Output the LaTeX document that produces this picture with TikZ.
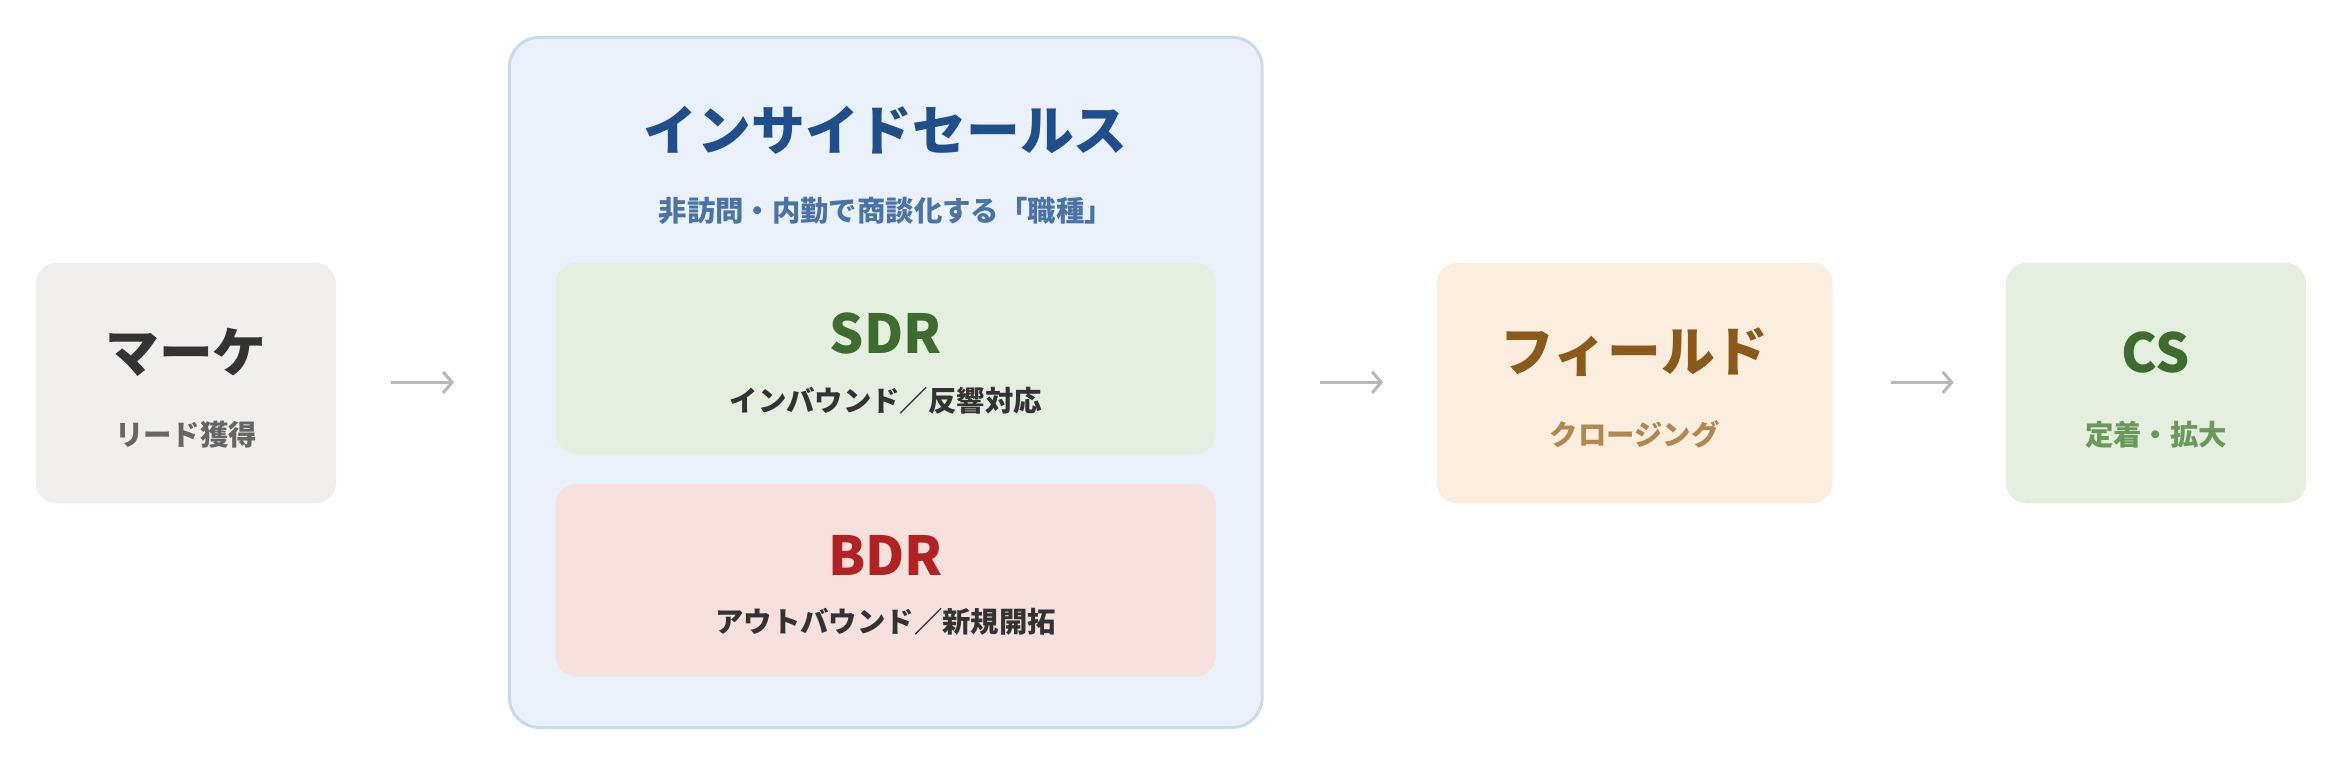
\documentclass[tikz,border=0pt]{standalone}
\usepackage{fontspec}
\setmainfont{Noto Sans CJK JP}
\begin{document}
\begin{tikzpicture}[x=1pt,y=-1pt,
 box/.style={rounded corners=14pt,draw=none},
 ttl/.style={font=\fontsize{36}{40}\selectfont\bfseries},
 sub/.style={font=\fontsize{19}{22}\selectfont\bfseries},
 arr/.style={draw=black!28,line width=2pt,-{Straight Barb[length=6pt,width=14pt]}}]
\usetikzlibrary{arrows.meta}
\useasboundingbox[fill=white] (0,0) rectangle (1568,513);
\definecolor{gbox}{HTML}{F0EFEC}\definecolor{isbox}{HTML}{EAF1FA}\definecolor{isbd}{HTML}{C8DCF0}
\definecolor{sdrbox}{HTML}{E4EFDF}\definecolor{bdrbox}{HTML}{F6E1DD}\definecolor{fbox}{HTML}{FBEEDF}
\definecolor{isblue}{HTML}{1F4E8C}\definecolor{issub}{HTML}{4A74A8}\definecolor{grn}{HTML}{3E6B2E}
\definecolor{red}{HTML}{B22222}\definecolor{brn}{HTML}{8B5A1A}\definecolor{brs}{HTML}{B08850}\definecolor{grs}{HTML}{6A9A5A}
\definecolor{dk}{HTML}{333333}
% Marke
\fill[box,gbox] (24,176) rectangle (225,337);
\node[ttl,text=dk] (mk) at (124.5,236) {マーケ};
\node[sub,text=black!60] (mks) at (124.5,291) {リード獲得};
% IS
\draw[box,rounded corners=20pt,fill=isbox,draw=isbd,line width=2pt] (341,25) rectangle (845,487);
\node[ttl,text=isblue] (is) at (593,87) {インサイドセールス};
\node[sub,text=issub] (iss) at (593,141) {非訪問・内勤で商談化する「職種」};
\fill[box,sdrbox] (372,176) rectangle (814,304);
\node[ttl,text=grn] (sdr) at (593,223) {SDR};
\node[sub,text=dk] (sdrs) at (593,268) {インバウンド／反響対応};
\fill[box,bdrbox] (372,324) rectangle (814,453);
\node[ttl,text=red] (bdr) at (593,372) {BDR};
\node[sub,text=dk] (bdrs) at (593,416) {アウトバウンド／新規開拓};
% Field
\fill[box,fbox] (962,176) rectangle (1227,337);
\node[ttl,text=brn] (fd) at (1094.5,236) {フィールド};
\node[sub,text=brs] (fds) at (1094.5,291) {クロージング};
% CS
\fill[box,sdrbox] (1343,176) rectangle (1544,337);
\node[ttl,text=grn] (cs) at (1443.5,236) {CS};
\node[sub,text=grs] (css) at (1443.5,291) {定着・拡大};
% arrows
\coordinate (a1) at (262,256);\coordinate (b1) at (304,256);
\coordinate (a2) at (884,256);\coordinate (b2) at (926,256);
\coordinate (a3) at (1266,256);\coordinate (b3) at (1308,256);
\draw[arr] (a1)--(b1); \draw[arr] (a2)--(b2); \draw[arr] (a3)--(b3);
\end{tikzpicture}
\end{document}
